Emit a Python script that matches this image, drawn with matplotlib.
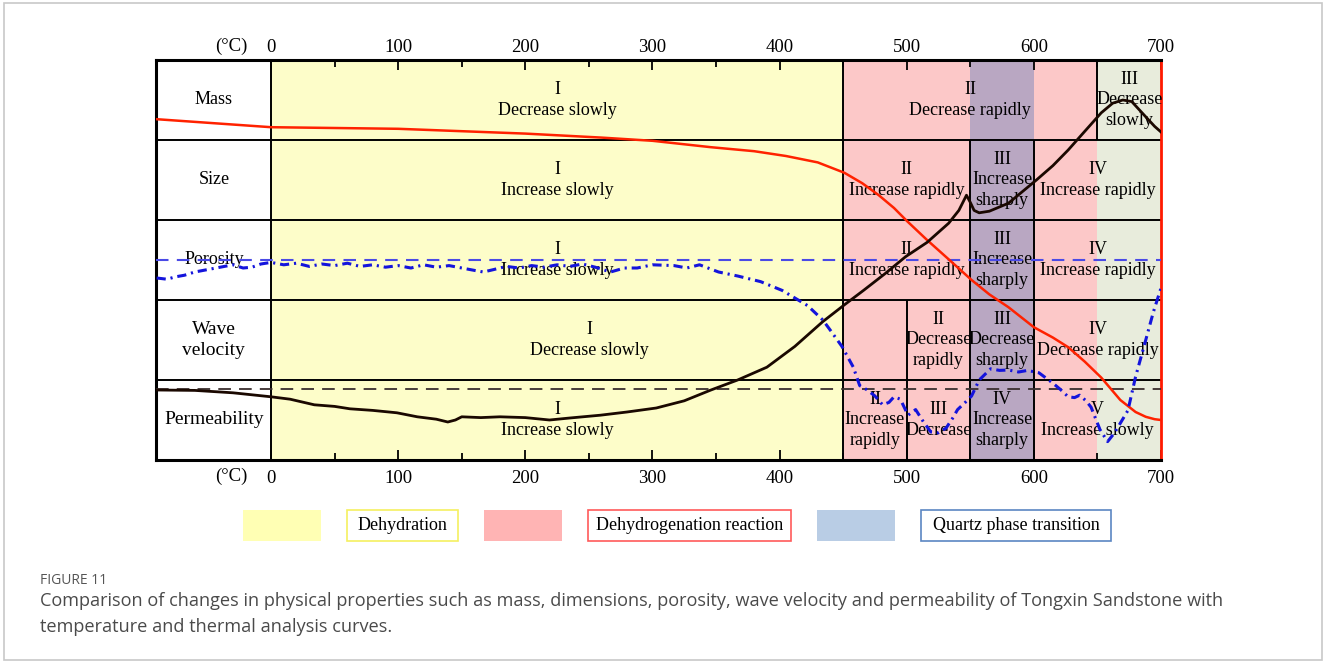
import matplotlib.pyplot as plt
from matplotlib.patches import Rectangle
from matplotlib.transforms import ScaledTranslation

plt.rcParams['font.family'] = ['Liberation Serif', 'DejaVu Serif']

# temperature axis (°C)
temp_ticks = [0, 100, 200, 300, 400, 500, 600, 700]
minor_ticks = [50, 150, 250, 350, 450, 550, 650]

# background stages: dehydration / dehydrogenation / quartz transition
stage_edges = [0, 450, 550, 600, 650, 700]
stage_colors = ['#fdfdc9', '#fcc8c8', '#b9a7c2', '#fcc8c8', '#e8ecdc']

# property rows, bottom to top
row_names = ['Permeability', 'Wave\nvelocity', 'Porosity', 'Size', 'Mass']
row_sizes = [14, 14, 13, 13, 13]

# vertical separators inside each row (row index -> temperatures)
row_splits = {0: [500, 550, 600], 1: [500, 550, 600], 2: [550, 600], 3: [550, 600], 4: [650]}

# stage annotations: (row, temperature, text)
stage_notes = [
    (4, 225, 'I\nDecrease slowly'),
    (4, 550, 'II\nDecrease rapidly'),
    (4, 675, 'III\nDecrease\nslowly'),
    (3, 225, 'I\nIncrease slowly'),
    (3, 500, 'II\nIncrease rapidly'),
    (3, 575, 'III\nIncrease\nsharply'),
    (3, 650, 'IV\nIncrease rapidly'),
    (2, 225, 'I\nIncrease slowly'),
    (2, 500, 'II\nIncrease rapidly'),
    (2, 575, 'III\nIncrease\nsharply'),
    (2, 650, 'IV\nIncrease rapidly'),
    (1, 250, 'I\nDecrease slowly'),
    (1, 525, 'II\nDecrease\nrapidly'),
    (1, 575, 'III\nDecrease\nsharply'),
    (1, 650, 'IV\nDecrease rapidly'),
    (0, 225, 'I\nIncrease slowly'),
    (0, 475, 'II\nIncrease\nrapidly'),
    (0, 525, 'III\nDecrease'),
    (0, 575, 'IV\nIncrease\nsharply'),
    (0, 650, 'V\nIncrease slowly'),
]

# thermal analysis curves (row units on the vertical axis)
mass_t = [-90, -45, 0, 50, 100, 150, 200, 260, 300, 346, 380, 405, 430, 451, 465,
          478, 490, 500, 516, 535, 551, 565, 580, 600, 615, 627, 640, 653, 668,
          680, 688, 695, 700]
mass_y = [4.26, 4.21, 4.16, 4.15, 4.14, 4.11, 4.08, 4.03, 3.99, 3.91, 3.86, 3.80,
          3.72, 3.59, 3.46, 3.31, 3.15, 2.99, 2.75, 2.48, 2.25, 2.07, 1.91, 1.66,
          1.53, 1.41, 1.23, 1.03, 0.75, 0.60, 0.54, 0.51, 0.50]

expan_t = [-90, -60, -30, 0, 15, 34, 50, 62, 80, 99, 115, 130, 139, 145, 150, 165,
           180, 200, 219, 235, 259, 280, 303, 325, 346, 367, 390, 412, 434, 451,
           466, 483, 499, 516, 533, 541, 547, 550, 553, 557, 565, 580, 602, 615,
           627, 639, 653, 662, 670, 677, 688, 695, 700]
expan_y = [0.875, 0.87, 0.84, 0.79, 0.76, 0.69, 0.67, 0.64, 0.62, 0.59, 0.54, 0.51,
           0.475, 0.50, 0.54, 0.53, 0.54, 0.53, 0.50, 0.525, 0.56, 0.60, 0.65, 0.74,
           0.875, 1.0, 1.16, 1.42, 1.73, 1.94, 2.12, 2.33, 2.54, 2.72, 2.96, 3.12,
           3.31, 3.22, 3.12, 3.09, 3.11, 3.21, 3.5, 3.68, 3.875, 4.09, 4.34, 4.46,
           4.50, 4.48, 4.29, 4.17, 4.10]

dsc_t = [-90, -82, -75, -68, -60, -50, -40, -30, -22, -15, -8, 0, 10, 20, 30, 40,
         50, 60, 70, 80, 90, 100, 110, 120, 130, 140, 150, 160, 167, 175, 185, 195,
         205, 215, 225, 235, 245, 255, 267, 278, 288, 300, 317, 327, 337, 352, 367,
         385, 402, 422, 434, 440, 449, 458, 463, 469, 475, 481, 486, 490, 495, 501,
         507, 513, 519, 525, 531, 536, 540, 546, 551, 557, 566, 573, 580, 588, 595,
         604, 615, 621, 627, 632, 636, 641, 645, 652, 658, 663, 668, 674, 680, 688,
         694, 698, 700]
dsc_y = [2.275, 2.26, 2.29, 2.31, 2.35, 2.38, 2.41, 2.44, 2.40, 2.41, 2.45, 2.47,
         2.44, 2.46, 2.42, 2.45, 2.43, 2.46, 2.42, 2.44, 2.41, 2.43, 2.40, 2.44, 2.41,
         2.43, 2.40, 2.37, 2.35, 2.38, 2.42, 2.40, 2.43, 2.41, 2.44, 2.42, 2.45, 2.41,
         2.35, 2.40, 2.40, 2.44, 2.43, 2.40, 2.44, 2.35, 2.30, 2.23, 2.12, 1.93, 1.75,
         1.62, 1.42, 1.16, 0.93, 0.875, 0.80, 0.69, 0.72, 0.79, 0.76, 0.56, 0.63, 0.48,
         0.35, 0.34, 0.40, 0.52, 0.63, 0.72, 0.80, 1.00, 1.14, 1.12, 1.125, 1.10, 1.12,
         1.09, 0.96, 0.88, 0.79, 0.78, 0.81, 0.74, 0.66, 0.38, 0.23, 0.33, 0.46, 0.62,
         1.04, 1.5, 1.85, 2.05, 2.15]

# reference levels
dsc_base = 2.5
perm_base = 0.8875

# legend entries
legend_labels = ['Dehydration', 'Dehydrogenation reaction', 'Quartz phase transition']
legend_fills = ['#ffffb4', '#ffb4b4', '#b9cde5']
legend_edges = ['#f5f060', '#ff5a5a', '#5b86c2']

W, H = 1328, 664
fig = plt.figure(figsize=(W / 100, H / 100), dpi=100)
ax = fig.add_axes([156 / W, 1 - 460 / H, 1005 / W, 400 / H])
ax.set_xlim(-90.5, 700)
ax.set_ylim(0, 5)

# stage shading
for lo, hi, c in zip(stage_edges[:-1], stage_edges[1:], stage_colors):
    ax.axvspan(lo, hi, color=c, lw=0, zorder=0)

# table lines
ax.hlines([1, 2, 3, 4], -90.5, 700, color='black', lw=1.4, zorder=2)
ax.vlines([0, 450], 0, 5, color='black', lw=1.4, zorder=2)
for row, xs in row_splits.items():
    ax.vlines(xs, row, row + 1, color='black', lw=1.4, zorder=2)

# row names in the left column
for i, (name, fs) in enumerate(zip(row_names, row_sizes)):
    ax.text(-45, i + 0.5, name, ha='center', va='center', fontsize=fs,
            linespacing=1.35, zorder=3)

for row, t, txt in stage_notes:
    ax.text(t, row + 0.5, txt, ha='center', va='center', fontsize=13,
            linespacing=1.28, zorder=3)

# dashed reference lines
ax.axhline(dsc_base, color='#4a4ae6', lw=1.5, ls=(0, (6, 4)), zorder=4)
ax.axhline(perm_base, color='#3a2e2e', lw=1.3, ls=(0, (7, 4.5)), zorder=4)

# curves
ax.plot(mass_t, mass_y, color='#ff2200', lw=1.8, zorder=5)
ax.plot(expan_t, expan_y, color='#1a0800', lw=2.0, zorder=5)
ax.plot(dsc_t, dsc_y, color='#1414dc', lw=2.2, ls=(0, (3, 1.6, 0.7, 1.6)), zorder=5)

# axes frame and temperature ticks
for side in ['left', 'top', 'bottom']:
    ax.spines[side].set_linewidth(2.2)
ax.spines['right'].set_color('#ff1a00')
ax.spines['right'].set_linewidth(2.0)
ax.set_yticks([])
ax.set_xticks(temp_ticks)
ax.set_xticks(minor_ticks, minor=True)
ax.tick_params(axis='x', which='both', direction='in', top=True, bottom=True,
               labeltop=True, labelbottom=True, width=1.3, labelsize=13.5, pad=7.5)
ax.tick_params(axis='x', which='major', length=7)
ax.tick_params(axis='x', which='minor', length=5)
# top labels sit a little closer to the frame than the bottom ones
for tk in ax.xaxis.get_major_ticks():
    tk.label2.set_transform(tk.label2.get_transform() +
                            ScaledTranslation(0, -0.06, fig.dpi_scale_trans))
ax.text(-31, 5.17, '(°C)', ha='center', va='center', fontsize=13.5)
ax.text(-31, -0.21, '(°C)', ha='center', va='center', fontsize=13.5)

# legend row below the table
def box(x0, x1, y0, y1, fc, ec, lw):
    fig.add_artist(Rectangle((x0 / W, 1 - y1 / H), (x1 - x0) / W, (y1 - y0) / H,
                             transform=fig.transFigure, fc=fc, ec=ec, lw=lw))

swatch_x = [243, 484, 817]
label_x = [(347, 458), (588, 791), (921, 1111)]
for sx, (lx0, lx1), lab, fc, ec in zip(swatch_x, label_x, legend_labels,
                                       legend_fills, legend_edges):
    box(sx, sx + 78, 510, 541, fc, 'none', 0)
    box(lx0, lx1, 510, 541, 'white', ec, 1.2)
    fig.text((lx0 + lx1) / 2 / W, 1 - 526 / H, lab, ha='center', va='center',
             fontsize=13)

# caption
fig.text(40 / W, 1 - 580 / H, 'FIGURE 11', fontsize=10, color='#555555',
         family='Open Sans', va='center')
fig.text(40 / W, 1 - 614 / H,
         'Comparison of changes in physical properties such as mass, dimensions, '
         'porosity, wave velocity and permeability of Tongxin Sandstone with\n'
         'temperature and thermal analysis curves.',
         fontsize=13.1, color='#4a4a4a', family='Open Sans', va='center',
         linespacing=1.6)

# outer frame
fig.add_artist(Rectangle((4 / W, 1 - 660 / H), 1318 / W, 657 / H, fill=False,
                         ec='#c8c8c8', lw=1.2, transform=fig.transFigure))

fig.savefig('out.png', dpi=100)
